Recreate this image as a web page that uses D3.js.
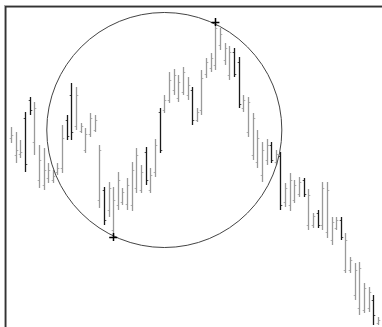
<!DOCTYPE html>
<html><head><meta charset="utf-8">
<script src="https://cdn.jsdelivr.net/npm/d3@7"></script>
<style>html,body{margin:0;padding:0;background:#fff;overflow:hidden}</style>
</head><body>
<svg id="c" width="382" height="327"></svg>
<script>
const highs = [273,268,260,288,303,298,255,252,237,230,237,275,285,317,313,277,272,287,285,255,
  213,218,213,228,212,222,238,252,235,253,232,261,292,305,328,331,325,333,323,313,
  292,330,342,347,378,372,357,354,352,343,305,303,287,270,258,261,258,250,248,217,
  227,220,223,222,211,187,190,218,218,183,183,183,167,143,137,138,117,113,105,83];
const lows = [257,237,242,228,285,245,212,210,217,217,225,227,260,260,270,267,247,263,268,192,
  175,183,163,190,195,190,189,207,207,215,207,223,247,287,297,305,298,305,300,275,
  278,285,322,328,330,350,335,320,323,292,288,263,240,232,218,235,237,235,190,193,
  189,197,203,203,170,172,172,170,162,155,170,160,127,127,100,85,87,88,75,75];
const opens = [262,245,246,282,300,258,220,215,222,220,228,232,280,305,274,269,250,266,270,200,
  210,190,170,195,198,196,195,212,210,248,210,228,288,290,300,310,302,308,305,310,
  280,290,326,332,335,355,340,325,348,338,292,268,245,238,225,240,255,238,244,198,
  195,200,206,220,175,175,187,175,168,160,172,180,130,130,105,92,90,92,100,77];
const closes = [265,250,248,236,290,292,240,230,230,224,232,262,264,268,305,274,266,282,280,250,
  180,212,200,220,208,215,230,245,228,220,225,255,250,300,320,325,318,328,315,280,
  288,322,338,342,372,366,352,348,326,296,300,298,282,262,250,255,240,246,195,212,
  220,215,218,206,205,184,175,212,210,178,180,163,160,140,130,132,112,108,85,80];
const markIdx = [44, 22];          // circle anchor bars: high of 44, low of 22
const circleCenter = {index: 33, price: 270};

const svg = d3.select("#c");
const idx = d3.range(highs.length);
const x = d3.scaleLinear().domain([0, highs.length - 1]).range([11, 378]);
const y = d3.scaleLinear().domain([80, 380]).range([320, 20]);

// border
svg.append("rect").attr("x", 4.5).attr("y", 5.5).attr("width", 400).attr("height", 400)
  .attr("fill", "none").attr("stroke", "#aaa").attr("stroke-width", 1);
svg.append("rect").attr("x", 5.75).attr("y", 6.75).attr("width", 400).attr("height", 400)
  .attr("fill", "none").attr("stroke", "#333").attr("stroke-width", 1.5);

const col = i => closes[i] < opens[i] ? "#1a1a1a" : "#9a9a9a";
const g = svg.append("g");
idx.forEach(i => {
  const cx = Math.round(x(i)) + 0.5;
  g.append("line").attr("x1", cx).attr("x2", cx).attr("y1", y(highs[i])).attr("y2", y(lows[i]))
    .attr("stroke", col(i)).attr("stroke-width", 1.3);
  g.append("line").attr("x1", cx - 1.8).attr("x2", cx).attr("y1", Math.round(y(opens[i])) + 0.5).attr("y2", Math.round(y(opens[i])) + 0.5)
    .attr("stroke", col(i)).attr("stroke-width", 0.8);
  g.append("line").attr("x1", cx).attr("x2", cx + 1.8).attr("y1", Math.round(y(closes[i])) + 0.5).attr("y2", Math.round(y(closes[i])) + 0.5)
    .attr("stroke", col(i)).attr("stroke-width", 0.8);
});

// circle
const ccx = x(circleCenter.index), ccy = y(circleCenter.price);
const p1 = [x(markIdx[0]), y(highs[markIdx[0]])];
const p2 = [x(markIdx[1]), y(lows[markIdx[1]])];
const r = (Math.hypot(p1[0] - ccx, p1[1] - ccy) + Math.hypot(p2[0] - ccx, p2[1] - ccy)) / 2 - 1.5;
svg.append("circle").attr("cx", ccx).attr("cy", ccy).attr("r", r)
  .attr("fill", "none").attr("stroke", "#444").attr("stroke-width", 1);

// cross markers
[p1, p2].forEach(p => {
  svg.append("path").attr("d", `M${p[0]-4},${Math.round(p[1])+0.5}h8M${Math.round(p[0])+0.5},${p[1]-4}v8`)
    .attr("stroke", "#000").attr("stroke-width", 1.5);
});
</script>
</body></html>
